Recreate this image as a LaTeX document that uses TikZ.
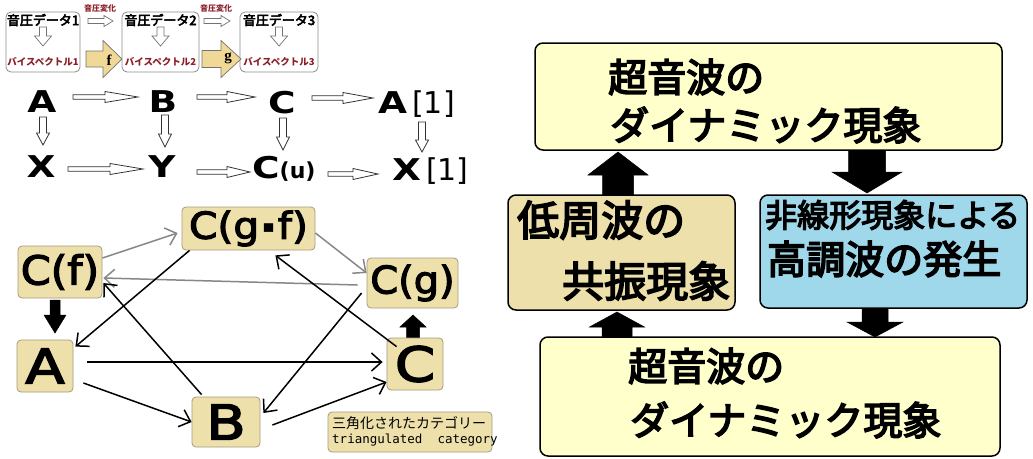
\documentclass[tikz,border=0pt]{standalone}
\usepackage{fontspec}
\usepackage{graphicx}
\setmainfont{Noto Sans CJK JP}
\newfontfamily\jpm{Noto Sans CJK JP}[FakeBold=4]
\newfontfamily\dvs{DejaVu Sans}
\newfontfamily\dvsfb{DejaVu Sans}[FakeBold=3]
\newfontfamily\dvsm{DejaVu Sans Mono}
\newfontfamily\lser{Liberation Serif}
\usetikzlibrary{arrows.meta,calc}
\definecolor{tanbox}{RGB}{238,224,170}
\definecolor{tanedge}{RGB}{165,155,125}
\definecolor{ltyellow}{RGB}{255,255,204}
\definecolor{ltblue}{RGB}{158,216,234}
\definecolor{darkred}{RGB}{140,30,40}
\definecolor{arrowtan}{RGB}{240,216,150}
\definecolor{arrgray}{RGB}{135,135,135}
\newcommand{\fs}[1]{\fontsize{#1}{#1}\selectfont}
\newcommand{\wide}[2]{\scalebox{#1}[1]{#2}}
% style, x, ystart, ybase, ytip, shaft half, head half
\newcommand{\vblock}[7]{\draw[#1] (#2-#6,#3) -- (#2-#6,#4) -- (#2-#7,#4) -- (#2,#5) -- (#2+#7,#4) -- (#2+#6,#4) -- (#2+#6,#3) -- cycle;}
% style, y, xstart, xbase, xtip, shaft half, head half
\newcommand{\hblock}[7]{\draw[#1] (#3,#2-#6) -- (#4,#2-#6) -- (#4,#2-#7) -- (#5,#2) -- (#4,#2+#7) -- (#4,#2+#6) -- (#3,#2+#6) -- cycle;}
\begin{document}
\begin{tikzpicture}[x=1pt,y=-1pt,
  databox/.style={draw=black!45, fill=white, rounded corners=5pt, line width=0.8pt, inner sep=0pt},
  jpsm/.style={inner sep=0pt, font=\jpm\fs{13}},
  bisp/.style={inner sep=0pt, font=\fs{9.5}\bfseries, text=darkred},
  henka/.style={inner sep=0pt, font=\fs{8}\bfseries, text=darkred},
  rowl/.style={inner sep=0pt, font=\dvs\bfseries\fs{30}},
  hollow/.style={draw=black!80, fill=white, line width=0.8pt},
  hollowg/.style={draw=black!55, fill=white, line width=0.7pt},
  tanarr/.style={draw=black!55, fill=arrowtan, line width=0.7pt},
  solidarr/.style={draw=black, fill=black, line width=0.5pt},
  tbox/.style={draw=tanedge, fill=tanbox, rounded corners=4pt, line width=0.8pt, inner sep=0pt, font=\dvsfb},
  tarr/.style={-{Straight Barb[length=10pt,width=18pt]}, line width=1.5pt, draw=black},
  garr/.style={tarr, draw=arrgray},
  bigbox/.style={draw=black, line width=1.5pt, rounded corners=8pt, inner sep=0pt},
  bigtext/.style={inner sep=0pt, anchor=west, font=\jpm\fs{39}},
]
\fill[white] (0,0) rectangle (1033,458);
\useasboundingbox (0,0) rectangle (1033,458);

% ---------- top-left data boxes ----------
\node[databox, minimum width=74pt, minimum height=60pt] (d1) at (43,42) {};
\node[databox, minimum width=77pt, minimum height=60pt] (d2) at (160.5,42) {};
\node[databox, minimum width=78pt, minimum height=60pt] (d3) at (279,42) {};
\node[jpsm] (d1a) at (43,20) {音圧データ1};
\node[jpsm] (d2a) at (160.5,20) {音圧データ2};
\node[jpsm] (d3a) at (279,20) {音圧データ3};
\node[bisp] (d1b) at (43,62) {バイスペクトル1};
\node[bisp] (d2b) at (160.5,62) {バイスペクトル2};
\node[bisp] (d3b) at (279,62) {バイスペクトル3};
\vblock{hollowg}{43}{27}{36}{46}{3.5}{8.5}
\vblock{hollowg}{160.5}{27}{36}{46}{3.5}{8.5}
\vblock{hollowg}{279}{27}{36}{46}{3.5}{8.5}
\node[henka] (h1) at (100,8) {音圧変化};
\node[henka] (h2) at (216,8) {音圧変化};
\hblock{hollowg}{21}{88}{104}{113}{2.5}{5.5}
\hblock{hollowg}{21}{204}{221}{230}{2.5}{5.5}
\hblock{tanarr}{59}{86}{103}{122}{8}{18.5}
\hblock{tanarr}{59}{202}{221}{241}{8.5}{18.5}
\node[inner sep=0pt, font=\lser\bfseries\fs{15}] (fl) at (109,60) {f};
\node[inner sep=0pt, font=\lser\bfseries\fs{15}] (gl) at (228,58) {g};

% ---------- rows of letters ----------
\node[rowl, anchor=base] (rA) at (42,112) {\wide{1.25}{A}};
\node[rowl, anchor=base] (rB) at (163,112) {\wide{1.25}{B}};
\node[rowl, anchor=base] (rC) at (282,113) {\wide{1.25}{C}};
\node[rowl, anchor=base west] (rA1) at (378,113) {\wide{1.25}{A}\,{\mdseries[1]}};
\node[rowl, anchor=base] (rX) at (41,177) {\wide{1.25}{X}};
\node[rowl, anchor=base] (rY) at (162,177) {\wide{1.25}{Y}};
\node[rowl, anchor=base west] (rCu) at (252,178) {\wide{1.25}{C}{\fs{22}(u)}};
\node[rowl, anchor=base west] (rX1) at (392,180) {\wide{1.25}{X}\,{\mdseries[1]}};
\hblock{hollow}{97}{73}{105}{138}{2.3}{5.5}
\hblock{hollow}{97}{197}{227}{255}{2.3}{5.5}
\hblock{hollow}{98}{312}{343}{373}{2.3}{5.5}
\hblock{hollow}{169}{68}{110}{143}{2.3}{5.5}
\hblock{hollow}{172}{197}{227}{250}{2.3}{5.5}
\hblock{hollow}{174}{328}{353}{378}{2.3}{5.5}
\vblock{hollow}{43}{117}{133}{145}{3.5}{6.5}
\vblock{hollow}{165}{115}{134}{147}{3.5}{6.5}
\vblock{hollow}{283}{118}{137}{150}{3.5}{6.5}
\vblock{hollow}{422}{122}{140}{152}{3.5}{6.5}

% ---------- triangulated category diagram ----------
\vblock{solidarr}{55}{300}{315}{333}{5}{11}
\vblock{solidarr}{413}{338}{327}{315}{6.5}{13}
\node[tbox, minimum width=133pt, minimum height=43pt] (cgf) at (248.5,228.5) {\wide{1.1}{\fs{37}C(g\hspace{3pt}\raisebox{7pt}{\fs{16}▪}\hspace{3pt}f)}};
\node[tbox, minimum width=84pt, minimum height=52pt] (cf) at (60,272) {\wide{1.07}{\fs{40}C(f)}};
\node[tbox, minimum width=91pt, minimum height=50pt] (cg) at (412.5,283) {\wide{1.05}{\fs{38}C(g)}};
\node[tbox, minimum width=56pt, minimum height=52pt] (nA) at (45,366) {\wide{1.2}{\fs{48}A}};
\node[tbox, minimum width=56pt, minimum height=52pt] (nC) at (415,364) {\wide{1.2}{\fs{48}C}};
\node[tbox, minimum width=68pt, minimum height=50pt] (nB) at (226,422) {\wide{1.2}{\fs{48}B}};
\node[tbox, minimum width=164pt, minimum height=40pt] (tri) at (410,432) {};
\node[inner sep=0pt, anchor=west, font=\fs{14}] (tri1) at (332,423) {三角化されたカテゴリー};
\node[inner sep=0pt, anchor=west, font=\dvsm\fs{12.5}] (tri2) at (332,440) {triangulated\ \ category};
\draw[garr] ($(cf.east)+(0,-14)$) -- ($(cgf.west)+(-4,4.5)$);
\draw[garr] ($(cgf.east)+(0,4.5)$) -- ($(cg.west)+(0,-10)$);
\draw[garr] ($(cg.west)+(-9,2)$) -- ($(cf.east)+(1,6)$);
\draw[tarr] ($(cgf.south west)+(8,0)$) -- ($(nA.north east)+(2,7)$);
\draw[tarr] ($(cg.west)+(-5,10)$) -- ($(nB.east)+(3,-9)$);
\draw[tarr] ($(nC.north west)+(10,9)$) -- ($(cgf.south east)+(-40,5)$);
\draw[tarr] ($(nB.north west)+(10,-2)$) -- ($(cf.east)+(1,11)$);
\draw[tarr] ($(nA.east)+(14,-4)$) -- ($(nC.west)+(-4,-2)$);
\draw[tarr] ($(nA.east)+(10,17)$) -- (nB.west);
\draw[tarr] ($(nB.east)+(12,3)$) -- ($(nC.west)+(0,18)$);

% ---------- right flow ----------
\vblock{solidarr}{618}{196}{175}{152}{15.5}{30}
\vblock{solidarr}{867}{149}{172}{193}{18.5}{35}
\vblock{solidarr}{617}{338}{327}{312}{15}{27.5}
\vblock{solidarr}{875}{307}{322}{337}{13}{28}
\node[bigbox, fill=ltyellow, minimum width=467pt, minimum height=107pt] (top) at (768.5,96.5) {};
\node[bigbox, fill=tanbox, minimum width=227pt, minimum height=115pt] (low) at (621.5,252.5) {};
\node[bigbox, fill=ltblue, minimum width=267pt, minimum height=113pt] (nl) at (893.5,251.5) {};
\node[bigbox, fill=ltyellow, minimum width=460pt, minimum height=119pt] (bot) at (770,396.5) {};
\node[bigtext] (t1) at (608,77) {超音波の};
\node[bigtext] (t2) at (610,125) {ダイナミック現象};
\node[bigtext, font=\jpm\fs{42}] (l1) at (517,220) {低周波の};
\node[bigtext, font=\jpm\fs{42}] (l2) at (562,281) {共振現象};
\node[bigtext, font=\jpm\fs{32}] (n1) at (765,215) {非線形現象による};
\node[bigtext] (n2) at (767,259) {高調波の発生};
\node[bigtext] (s1) at (628,366) {超音波の};
\node[bigtext] (s2) at (630,420) {ダイナミック現象};
\end{tikzpicture}
\end{document}
